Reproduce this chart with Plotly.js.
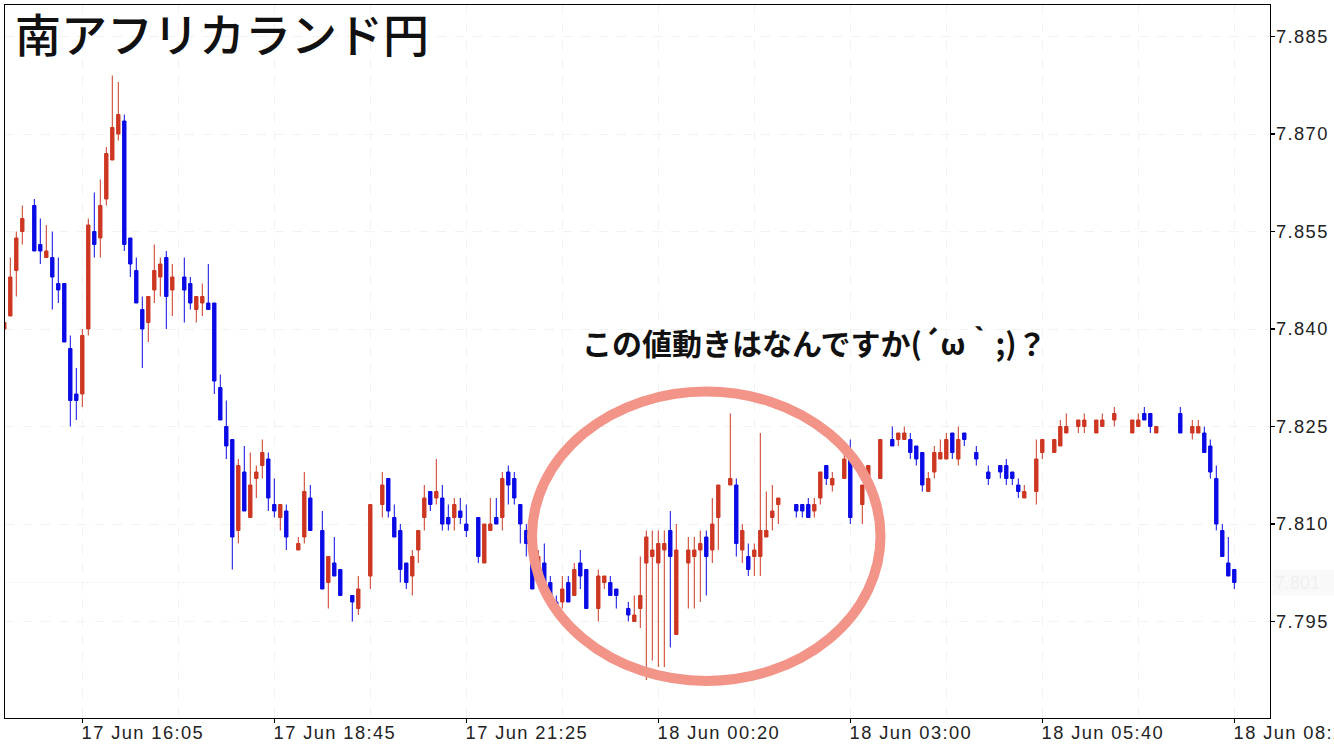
<!DOCTYPE html>
<html><head><meta charset="utf-8">
<script src="https://cdn.plot.ly/plotly-3.0.1.min.js"></script>
<style>
html,body{margin:0;padding:0;background:#fff;overflow:hidden}
.xtick text,.ytick text{letter-spacing:1.4px}
</style></head><body><div id="chart" style="width:1334px;height:750px"></div>
<script>
const open=[7.840,7.842,7.849,7.855,null,7.859,7.853,7.851,7.851,7.847,
7.847,7.837,7.830,7.830,7.840,7.855,7.854,7.860,7.866,7.870,
7.872,7.854,7.849,7.843,7.841,7.846,7.848,7.851,7.846,null,
7.848,7.847,7.843,7.844,7.844,7.844,7.831,7.825,7.823,7.809,
7.818,7.811,7.817,7.819,7.820,7.813,7.811,7.812,null,7.806,
7.808,7.814,null,7.809,7.801,7.804,7.803,null,7.799,7.797,
null,7.802,null,7.813,7.817,7.811,7.809,7.804,7.802,7.806,
7.811,7.815,7.814,7.814,7.811,7.811,7.812,7.810,null,7.811,
7.804,7.809,7.811,7.811,7.818,7.817,7.813,7.809,7.804,7.802,
7.804,7.801,7.798,7.798,7.801,7.799,7.804,7.803,null,7.797,
7.801,7.801,7.800,null,7.797,7.795,7.797,7.804,7.805,7.804,
7.806,7.809,7.793,null,7.804,7.805,7.806,7.808,7.806,7.811,
null,7.816,7.816,7.806,7.805,7.805,7.805,7.808,7.811,7.813,
null,null,7.813,7.813,7.813,7.812,7.814,7.819,7.816,null,
7.817,7.820,null,7.813,7.816,null,7.817,null,7.823,7.823,
7.823,7.823,7.822,7.821,7.815,7.818,7.820,7.820,7.824,7.820,
7.824,null,7.821,null,7.818,null,7.819,7.819,7.818,7.816,
7.814,null,7.815,7.821,null,7.821,7.822,7.824,null,7.825,
7.825,null,7.824,7.825,null,7.826,null,null,7.824,7.825,
7.827,7.827,7.824,null,null,null,7.827,null,7.824,7.824,
7.824,7.822,7.817,7.809,7.804,7.803];
const high=[7.841,7.851,7.855,7.859,null,7.860,7.857,7.856,7.855,7.851,
7.847,7.839,7.834,7.840,7.857,7.861,7.863,7.868,7.879,7.878,
7.873,7.854,7.851,7.845,7.845,7.853,7.851,7.852,7.850,null,
7.851,7.848,7.845,7.847,7.850,7.844,7.833,7.829,7.823,7.820,
7.822,7.821,7.819,7.823,7.821,7.817,7.813,7.813,null,7.808,
7.818,7.816,null,7.812,7.805,7.808,7.803,null,7.799,7.802,
null,7.813,null,7.818,7.817,7.813,7.810,7.804,7.806,7.809,
7.816,7.815,7.820,7.816,7.813,7.814,7.814,7.813,null,7.811,
7.810,7.814,7.814,7.818,7.819,7.818,7.813,7.810,7.806,7.806,
7.807,7.802,7.799,7.802,7.802,7.804,7.806,7.803,null,7.803,
7.802,7.802,7.800,null,7.798,7.799,7.805,7.809,7.809,7.809,
7.809,7.812,7.810,null,7.808,7.808,7.809,7.809,7.814,7.816,
null,7.827,7.817,7.810,7.807,7.807,7.824,7.815,7.816,7.814,
null,null,7.813,7.813,7.814,7.814,7.818,7.819,7.818,null,
7.821,7.823,null,7.816,7.819,null,7.823,null,7.825,7.824,
7.825,7.824,7.822,7.821,7.818,7.822,7.823,7.824,7.824,7.825,
7.824,null,7.822,null,7.819,null,7.819,7.820,7.818,7.817,
7.816,null,7.823,7.823,null,7.823,7.826,7.827,null,7.826,
7.827,null,7.826,7.827,null,7.828,null,null,7.826,7.827,
7.828,7.827,7.825,null,null,null,7.828,null,7.826,7.826,
7.825,7.823,7.819,7.810,7.808,7.803];
const low=[7.840,7.842,7.845,7.853,null,7.852,7.850,7.851,7.843,7.844,
7.838,7.825,7.826,7.828,7.839,7.851,7.851,7.859,7.866,7.869,
7.852,7.848,7.844,7.834,7.838,7.844,7.845,7.840,7.842,null,
7.841,7.843,7.841,7.842,7.843,7.830,7.826,7.820,7.803,7.807,
7.812,7.811,7.814,7.817,7.812,7.811,7.809,7.806,null,7.806,
7.807,7.809,null,7.800,7.797,7.802,7.799,null,7.795,7.796,
null,7.800,null,7.811,7.811,7.808,7.801,7.800,7.799,7.804,
7.809,7.812,7.813,7.809,7.809,7.809,7.810,7.808,null,7.804,
7.804,7.809,7.810,7.809,7.813,7.813,7.807,7.805,7.800,7.802,
7.801,7.799,7.797,7.797,7.798,7.799,7.800,7.797,null,7.795,
7.800,7.799,7.797,null,7.795,7.795,7.794,7.786,7.789,7.788,
7.788,7.791,7.793,null,7.797,7.797,7.798,7.799,7.804,7.806,
null,7.816,7.805,7.804,7.802,7.802,7.802,7.808,7.809,7.810,
null,null,7.811,7.811,7.811,7.811,7.813,7.816,7.815,null,
7.817,7.810,null,7.810,7.816,null,7.817,null,7.822,7.822,
7.823,7.820,7.819,7.815,7.815,7.817,7.820,7.820,7.820,7.819,
7.822,null,7.819,null,7.816,null,7.817,7.816,7.816,7.814,
7.814,null,7.813,7.820,null,7.821,7.822,7.824,null,7.824,
7.824,null,7.824,7.825,null,7.825,null,null,7.824,7.825,
7.826,7.824,7.824,null,null,null,7.824,null,7.823,7.824,
7.821,7.817,7.809,7.805,7.802,7.800];
const close=[7.841,7.848,7.854,7.857,null,7.852,7.852,7.852,7.848,7.846,
7.838,7.829,7.829,7.839,7.856,7.853,7.859,7.867,7.871,7.873,
7.853,7.850,7.844,7.840,7.845,7.849,7.850,7.845,7.848,null,
7.846,7.844,7.845,7.845,7.843,7.832,7.826,7.822,7.808,7.819,
7.812,7.816,7.818,7.821,7.814,7.812,7.813,7.808,null,7.807,
7.815,7.809,null,7.800,7.805,7.802,7.799,null,7.798,7.800,
null,7.813,null,7.816,7.812,7.808,7.803,7.801,7.805,7.809,
7.814,7.813,7.815,7.810,7.810,7.813,7.811,7.809,null,7.805,
7.810,7.810,7.810,7.817,7.816,7.814,7.810,7.807,7.800,7.805,
7.801,7.799,7.797,7.800,7.798,7.803,7.802,7.797,null,7.802,
7.802,7.799,7.799,null,7.796,7.796,7.799,7.808,7.806,7.807,
7.807,7.805,7.806,null,7.806,7.806,7.807,7.805,7.810,7.816,
null,7.817,7.807,7.809,7.803,7.806,7.809,7.809,7.812,7.814,
null,null,7.812,7.812,7.811,7.813,7.818,7.817,7.817,null,
7.820,7.811,null,7.816,7.819,null,7.823,null,7.822,7.824,
7.824,7.821,7.820,7.816,7.817,7.821,7.821,7.823,7.821,7.823,
7.823,null,7.820,null,7.817,null,7.818,7.817,7.817,7.815,
7.815,null,7.820,7.823,null,7.823,7.825,7.825,null,7.826,
7.826,null,7.826,7.826,null,7.827,null,null,7.826,7.826,
7.826,7.825,7.825,null,null,null,7.824,null,7.825,7.825,
7.821,7.818,7.810,7.805,7.802,7.801];
const xTickPositions=[13,45,77,109,141,173,205];
const xTickLabels=["17 Jun 16:05","17 Jun 18:45","17 Jun 21:25","18 Jun 00:20","18 Jun 03:00","18 Jun 05:40","18 Jun 08:20"];
const xMinorGrid=[29,61,93,125,157,189];
const yTicks=[7.795,7.810,7.825,7.840,7.855,7.870,7.885];
const lastPrice=7.801;
const titleText="南アフリカランド円";
const noteText="この値動きはなんですか(´ω｀;)？";

const RED="#cd3722",BLUE="#0a0ae6",GRID="#f2f2f2",INK="#222";
const L=5,R=1270,T=5,B=718;
const px=X=>(X-L)/(R-L), py=Y=>(B-Y)/(B-T);
const tickFont={family:'"Liberation Sans",Arial,sans-serif',size:18.3,color:INK};

const trace={type:"candlestick",x:open.map((_,i)=>i),open,high,low,close,
  increasing:{line:{color:RED,width:1},fillcolor:RED},
  decreasing:{line:{color:BLUE,width:1},fillcolor:BLUE},
  whiskerwidth:0,hoverinfo:"skip",showlegend:false};

const layout={width:1334,height:750,margin:{l:L,r:1334-R,t:T,b:750-B,pad:0},
  paper_bgcolor:"#fff",plot_bgcolor:"#fff",showlegend:false,dragmode:false,boxgap:0.2,boxmode:"overlay",
  xaxis:{type:"linear",range:[(L-4.3)/6,(R-4.3)/6],rangeslider:{visible:false},
    tickmode:"array",tickvals:xTickPositions,ticktext:xTickLabels,
    ticks:"outside",ticklen:4,tickwidth:1.3,tickcolor:"#000",
    ticklabelposition:"outside right",ticklabeloverflow:"allow",tickangle:0,
    ticklabelstandoff:-2,ticklabelshift:-2,
    tickfont:tickFont,showline:true,linecolor:"#000",linewidth:1.3,mirror:true,
    showgrid:true,gridcolor:GRID,griddash:"dash",gridwidth:1,zeroline:false,
    minor:{tickmode:"array",tickvals:xMinorGrid,showgrid:true,gridcolor:GRID,griddash:"dash",gridwidth:1,ticks:""}},
  yaxis:{side:"right",type:"linear",range:[7.825-(B-426.5)/6500,7.825+(426.5-T)/6500],
    tickmode:"array",tickvals:yTicks,tickformat:".3f",
    ticks:"outside",ticklen:4,tickwidth:1.3,tickcolor:"#000",ticklabelstandoff:-3,
    tickfont:tickFont,showline:true,linecolor:"#000",linewidth:1.3,mirror:true,
    showgrid:true,gridcolor:GRID,griddash:"dash",gridwidth:1,zeroline:false},
  shapes:[
    {type:"line",layer:"below",xref:"paper",x0:0,x1:1,yref:"y",y0:lastPrice,y1:lastPrice,line:{color:"#f8f8f8",width:1}},
    {type:"circle",layer:"above",xref:"paper",yref:"paper",x0:px(532),x1:px(880.5),y0:py(681),y1:py(391.5),
      line:{color:"#f29488",width:10},fillcolor:"rgba(0,0,0,0)"}
  ],
  annotations:[
    {xref:"paper",yref:"paper",x:px(13),y:py(32),xanchor:"left",yanchor:"middle",showarrow:false,text:titleText,
      font:{family:'"Noto Sans CJK JP",sans-serif',size:46,weight:500,color:"#111"}},
    {xref:"paper",yref:"paper",x:px(580),y:py(342),xanchor:"left",yanchor:"middle",showarrow:false,text:"<b>"+noteText+"</b>",
      font:{family:'"Noto Sans CJK JP",sans-serif',size:30,color:"#111"}},
    {xref:"paper",yref:"y",x:px(1272),y:lastPrice,xanchor:"left",yanchor:"middle",showarrow:false,text:lastPrice.toFixed(3),
      bgcolor:"#f9f9f9",borderpad:2,width:62,height:21,align:"left",
      font:{family:'"Liberation Sans",Arial,sans-serif',size:18,color:"#f0f0f0"}}
  ]};
Plotly.newPlot("chart",[trace],layout,{displayModeBar:false,staticPlot:true});
</script></body></html>
